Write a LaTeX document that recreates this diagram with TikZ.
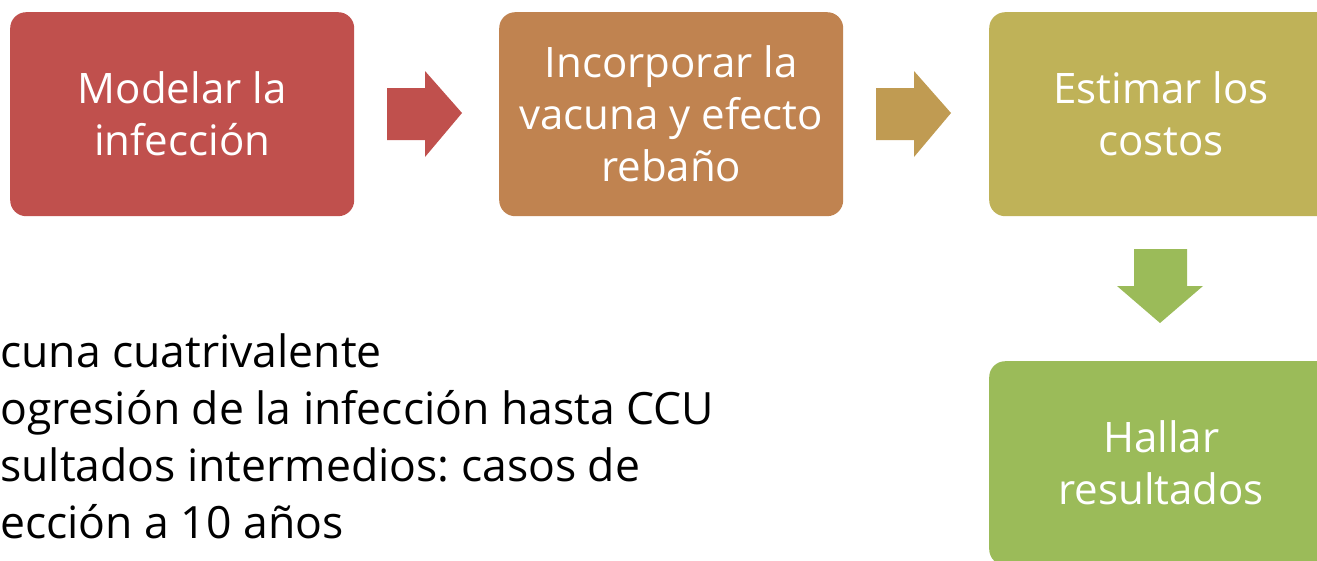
\documentclass[tikz,border=0pt]{standalone}
\usepackage{fontspec}
\setmainfont{Open Sans}
\frenchspacing
\definecolor{cA}{RGB}{192,80,77}
\definecolor{cB}{RGB}{192,131,80}
\definecolor{cC}{RGB}{191,178,88}
\definecolor{cD}{RGB}{155,187,89}
\definecolor{aB}{RGB}{192,155,82}
\tikzset{
  stepbox/.style={rectangle, rounded corners=16pt, minimum width=344pt, minimum height=204pt,
    inner sep=0pt, text=white, align=center, font=\fontsize{42}{52}\selectfont, anchor=north west},
  bodytext/.style={inner sep=0pt, anchor=base west, align=left, font=\fontsize{44.5}{57}\selectfont\frenchspacing, text=black}
}
\begin{document}
\begin{tikzpicture}[x=1pt,y=-1pt]
\useasboundingbox (0,0) rectangle (1317,560);
\clip (0,0) rectangle (1317,560);
\node[stepbox, fill=cA] (b1) at (10,12) {Modelar la\\infección};
\node[stepbox, fill=cB] (b2) at (499,12) {Incorporar la\\vacuna y efecto\\rebaño};
\node[stepbox, fill=cC] (b3) at (989,12) {Estimar los\\costos};
\node[stepbox, fill=cD] (b4) at (989,361) {Hallar\\resultados};
% block arrows
\fill[cA] (387,88) -- (425,88) -- (425,71) -- (462,113) -- (425,157) -- (425,140) -- (387,140) -- cycle;
\fill[aB] (876,88) -- (914,88) -- (914,71) -- (951,113) -- (914,157) -- (914,140) -- (876,140) -- cycle;
\fill[cD] (1134,249) -- (1187,249) -- (1187,286) -- (1203,286) -- (1160,323) -- (1117,286) -- (1134,286) -- cycle;
\node[bodytext] (t) at (0,538) {cuna cuatrivalente\\ogresión de la infección hasta CCU\\sultados intermedios: casos de\\ección a 10 años};
\end{tikzpicture}
\end{document}
